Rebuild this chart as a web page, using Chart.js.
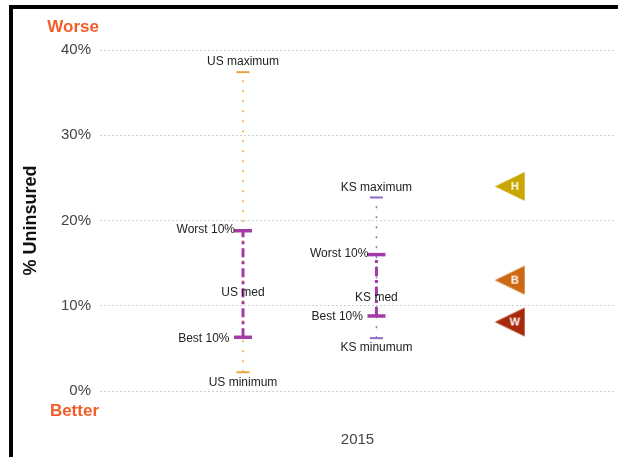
<!DOCTYPE html>
<html>
<head>
<meta charset="utf-8">
<script src="https://cdn.jsdelivr.net/npm/chart.js@4"></script>
<style>
  body { margin: 0; background: #fff; }
  #wrap {
    position: absolute; left: 9px; top: 5px;
    width: 605px; height: 448px;
    border-top: 4px solid #000; border-left: 4px solid #000;
  }
  canvas { display: block; }
</style>
</head>
<body>
<div id="wrap"><canvas id="chart" width="605" height="448"></canvas></div>
<script>
// values (% uninsured)
const groups = ['US', 'KS'];
const maxVals = [37.4, 22.7];
const worstVals = [18.8, 16.0];
const medVals = [11.5, 10.9];
const bestVals = [6.3, 8.8];
const minVals = [2.2, 6.2];
const groupLabels = [
    ['US maximum', 'Worst 10%', 'US med', 'Best 10%', 'US minimum'],
    ['KS maximum', 'Worst 10%', 'KS med', 'Best 10%', 'KS minumum']
];
const markerLetters = ['H', 'B', 'W'];
const markerVals = [24.0, 13.0, 8.1];
const yTicks = [0, 10, 20, 30, 40];
const xLabel = '2015';

const FONT = "'Liberation Sans', Arial, sans-serif";
const rangeColors = ['#e9a53c', '#8c6cc4'];
const tenColor = '#a33aa6';
const markerColors = ['#c9a700', '#cd6912', '#a8290b'];

function triangleImage(color, letter) {
    const c = document.createElement('canvas');
    c.width = 31; c.height = 31;
    const g = c.getContext('2d');
    g.fillStyle = color;
    g.beginPath();
    g.moveTo(0.5, 15.5);
    g.lineTo(30.5, 1);
    g.lineTo(30.5, 30);
    g.closePath();
    g.fill();
    g.fillStyle = '#fff';
    g.font = 'bold 11px ' + FONT;
    g.textAlign = 'center';
    g.textBaseline = 'middle';
    g.fillText(letter, 20.5, 16);
    return c;
}

const datasets = [];
groups.forEach((gName, i) => {
    datasets.push({
        data: [{ x: i, y: minVals[i] }, { x: i, y: maxVals[i] }],
        showLine: true, borderColor: rangeColors[i], borderWidth: 1.5,
        borderDash: [2, 8], pointRadius: 0, order: 5
    });
    datasets.push({
        data: [{ x: i, y: minVals[i] }, { x: i, y: maxVals[i] }],
        showLine: false, pointStyle: 'line', pointRadius: 6.5,
        borderColor: rangeColors[i], borderWidth: 2, order: 4
    });
    datasets.push({
        data: [{ x: i, y: bestVals[i] }, { x: i, y: worstVals[i] }],
        showLine: true, borderColor: tenColor, borderWidth: 3,
        borderDash: [9, 4, 3, 4], pointRadius: 0, order: 3
    });
    datasets.push({
        data: [{ x: i, y: bestVals[i] }, { x: i, y: worstVals[i] }],
        showLine: false, pointStyle: 'line', pointRadius: 9,
        borderColor: tenColor, borderWidth: 3.5, order: 2
    });
});
datasets.push({
    data: markerVals.map(v => ({ x: 2, y: v })),
    showLine: false,
    pointStyle: markerLetters.map((l, k) => triangleImage(markerColors[k], l)),
    pointRadius: 15, order: 1
});

const labelPlugin = {
    id: 'labels',
    afterDatasetsDraw(chart) {
        const ctx = chart.ctx;
        const xs = chart.scales.x, ys = chart.scales.y;
        ctx.save();
        ctx.font = '12px ' + FONT;
        ctx.fillStyle = '#222';
        ctx.textBaseline = 'middle';
        groups.forEach((g, i) => {
            const px = xs.getPixelForValue(i);
            const t = groupLabels[i];
            ctx.textAlign = 'center';
            ctx.fillText(t[0], px, ys.getPixelForValue(maxVals[i]) - 10);
            ctx.fillText(t[2], px, ys.getPixelForValue(medVals[i]));
            ctx.fillText(t[4], px, ys.getPixelForValue(minVals[i]) + 10);
            ctx.textAlign = 'right';
            ctx.fillText(t[1], px - 8, ys.getPixelForValue(worstVals[i]) - 1);
            ctx.fillText(t[3], px - 13.5, ys.getPixelForValue(bestVals[i]) + 1);
        });
        const area = chart.chartArea;
        ctx.font = 'bold 17px ' + FONT;
        ctx.fillStyle = '#f25c27';
        ctx.textAlign = 'right';
        ctx.fillText('Worse', area.left - 1, area.top - 23);
        ctx.fillText('Better', area.left - 1, area.bottom + 20);
        ctx.restore();
    }
};

new Chart(document.getElementById('chart'), {
    type: 'scatter',
    data: { datasets },
    options: {
        responsive: false,
        animation: false,
        layout: { autoPadding: false, padding: { top: 41, right: 3, left: 0, bottom: 0 } },
        plugins: { legend: { display: false }, tooltip: { enabled: false } },
        scales: {
            x: {
                type: 'linear', min: -1.072, max: 2.788,
                grid: { display: false, drawTicks: false },
                border: { display: false },
                afterBuildTicks: s => { s.ticks = [{ value: (s.min + s.max) / 2 }]; },
                afterFit: s => { s.height = 66; },
                ticks: {
                    callback: () => xLabel, padding: 40, maxRotation: 0, autoSkip: false,
                    color: '#444', font: { family: FONT, size: 15 }
                }
            },
            y: {
                min: yTicks[0], max: yTicks[yTicks.length - 1],
                afterBuildTicks: s => { s.ticks = yTicks.map(v => ({ value: v })); },
                afterFit: s => { s.width = 87; },
                grid: { color: '#cfcfcf', drawTicks: false },
                border: { display: false, dash: [2, 2] },
                ticks: {
                    callback: v => v + '%', padding: 9,
                    color: '#444', font: { family: FONT, size: 15 }
                },
                title: {
                    display: true, text: '% Uninsured', color: '#111',
                    font: { family: FONT, size: 18, weight: 'bold' },
                    padding: { top: 7, bottom: 0 }
                }
            }
        }
    },
    plugins: [labelPlugin]
});
</script>
</body>
</html>
